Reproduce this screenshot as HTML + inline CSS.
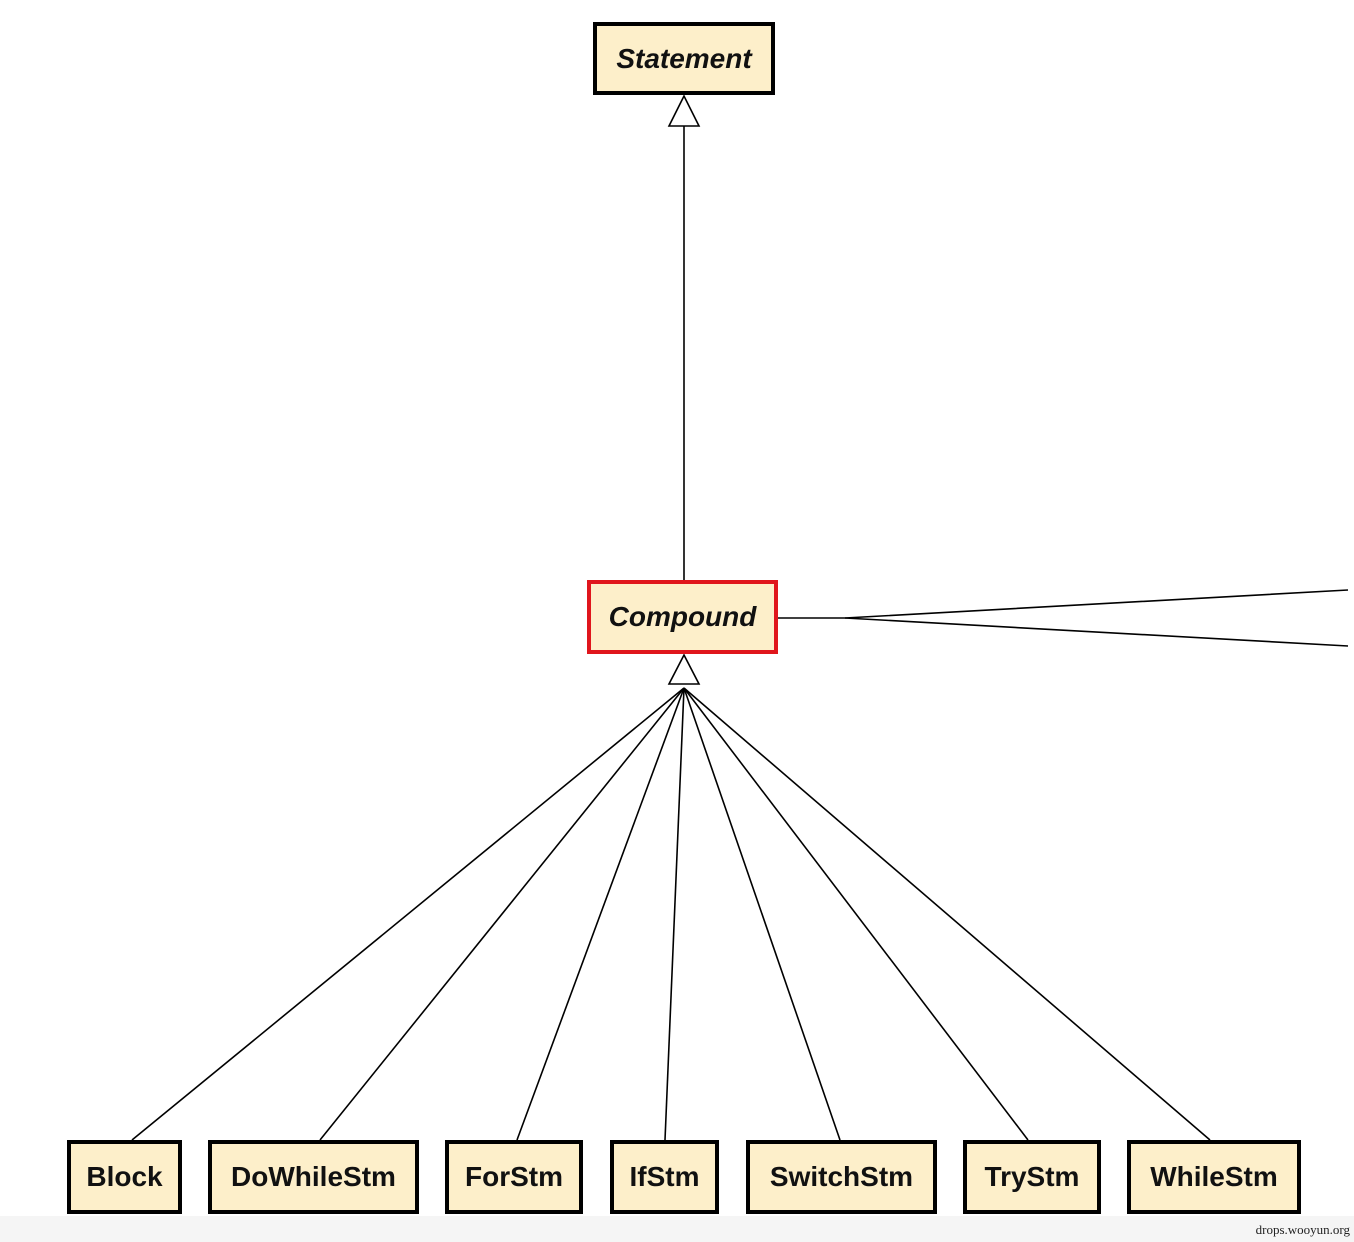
<!DOCTYPE html>
<html><head><style>
html,body{margin:0;padding:0;background:#fff;}
body{width:1354px;height:1242px;position:relative;overflow:hidden;font-family:"Liberation Sans",sans-serif;}
.b{position:absolute;box-sizing:border-box;border:4px solid #000;background:#fdefca;display:flex;align-items:center;justify-content:center;font-weight:bold;font-size:28px;letter-spacing:0;color:#111;}
.i{font-style:italic;}
.foot{position:absolute;left:0;top:1216px;width:1354px;height:26px;background:#f5f5f5;}
.ft{position:absolute;right:4px;top:1222px;font-family:"Liberation Serif",serif;font-size:13px;color:#222;}
</style></head><body>
<div class="foot"></div>
<svg width="1354" height="1242" style="position:absolute;left:0;top:0" stroke="#000" stroke-width="1.6" fill="none">
<line x1="684" y1="126" x2="684" y2="580"/>
<polygon points="684,96 669,126 699,126" fill="#fff"/>
<polyline points="777,618 845,618 1348,590"/>
<line x1="845" y1="618" x2="1348" y2="646"/>
<line x1="684" y1="688" x2="132" y2="1140"/>
<line x1="684" y1="688" x2="320" y2="1140"/>
<line x1="684" y1="688" x2="517" y2="1140"/>
<line x1="684" y1="688" x2="665" y2="1140"/>
<line x1="684" y1="688" x2="840" y2="1140"/>
<line x1="684" y1="688" x2="1028" y2="1140"/>
<line x1="684" y1="688" x2="1210" y2="1140"/>
<polygon points="684,655 669,684 699,684" fill="#fff"/>
</svg>
<div class="b i" style="left:593px;top:22px;width:182px;height:73px;">Statement</div>
<div class="b i" style="left:587px;top:580px;width:191px;height:74px;border-color:#e0161c;">Compound</div>
<div class="b" style="left:67px;top:1140px;width:115px;height:74px;">Block</div>
<div class="b" style="left:208px;top:1140px;width:211px;height:74px;">DoWhileStm</div>
<div class="b" style="left:445px;top:1140px;width:138px;height:74px;">ForStm</div>
<div class="b" style="left:610px;top:1140px;width:109px;height:74px;">IfStm</div>
<div class="b" style="left:746px;top:1140px;width:191px;height:74px;">SwitchStm</div>
<div class="b" style="left:963px;top:1140px;width:138px;height:74px;">TryStm</div>
<div class="b" style="left:1127px;top:1140px;width:174px;height:74px;">WhileStm</div>
<div class="ft">drops.wooyun.org</div>
</body></html>
